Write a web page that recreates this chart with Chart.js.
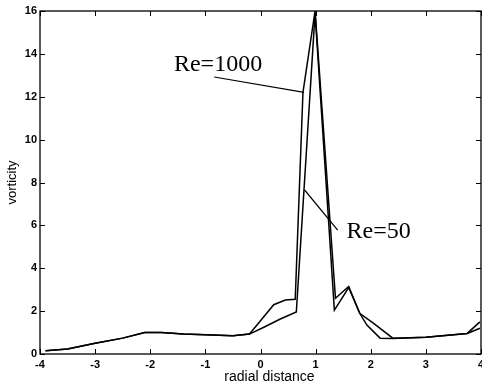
<!DOCTYPE html>
<html>
<head>
<meta charset="utf-8">
<script src="https://cdn.jsdelivr.net/npm/chart.js@4"></script>
<style>
  html, body { margin: 0; padding: 0; background: #fff; }
  #wrap { width: 482px; height: 387px; position: relative; }
</style>
</head>
<body>
<div id="wrap"><canvas id="chart" width="482" height="387"></canvas></div>
<script>
// ─── DATA ────────────────────────────────────────────────────────────────
const re1000X = [-3.9, -3.5, -3.0, -2.5, -2.1, -1.8, -1.4, -1.0, -0.5, -0.2, 0.0, 0.24, 0.45, 0.63, 0.77, 0.99, 1.36, 1.6, 1.8, 2.04, 2.4, 3.0, 3.75, 3.98];
const re1000Y = [0.15, 0.23, 0.5, 0.74, 1.0, 1.0, 0.93, 0.9, 0.85, 0.93, 1.55, 2.3, 2.52, 2.55, 12.2, 16, 2.6, 3.15, 1.9, 1.45, 0.74, 0.78, 0.96, 1.5];

const re50X = [-3.9, -3.5, -3.0, -2.5, -2.1, -1.8, -1.4, -1.0, -0.5, -0.2, 0.07, 0.35, 0.65, 0.99, 1.34, 1.6, 1.8, 1.93, 2.17, 2.4, 3.0, 3.75, 3.98];
const re50Y = [0.15, 0.23, 0.5, 0.74, 1.0, 1.0, 0.93, 0.9, 0.85, 0.93, 1.26, 1.62, 1.96, 15.9, 2.05, 3.1, 1.9, 1.35, 0.74, 0.72, 0.78, 0.96, 1.2];

const xTicks = [-4, -3, -2, -1, 0, 1, 2, 3, 4];
const yTicks = [0, 2, 4, 6, 8, 10, 12, 14, 16];

// labels with their leader lines, in data units: [text x, text baseline y, line from x,y, line to x,y]
const labelNames = ['Re=1000', 'Re=50'];
const labelAt = [[-1.57, 13.2], [1.56, 5.4]];
const leaderFrom = [[-0.84, 12.92], [0.8, 7.65]];
const leaderTo = [[0.79, 12.2], [1.4, 5.78]];

const toPoints = (xs, ys) => xs.map((x, i) => ({ x, y: ys[i] }));

// ─── FRAME, INWARD TICKS, LABELS ─────────────────────────────────────────
const framePlugin = {
  id: 'frame',
  afterDraw(chart) {
    const { ctx, chartArea: a, scales } = chart;
    const sx = scales.x, sy = scales.y;
    ctx.save();
    ctx.strokeStyle = '#000';
    ctx.lineWidth = 1.3;
    ctx.strokeRect(a.left, a.top, a.right - a.left, a.bottom - a.top);

    ctx.lineWidth = 1;
    ctx.beginPath();
    xTicks.forEach(v => {
      const px = Math.round(sx.getPixelForValue(v)) + 0.5;
      ctx.moveTo(px, a.bottom); ctx.lineTo(px, a.bottom - 5);
      ctx.moveTo(px, a.top); ctx.lineTo(px, a.top + 5);
    });
    yTicks.forEach(v => {
      const py = Math.round(sy.getPixelForValue(v)) + 0.5;
      ctx.moveTo(a.left, py); ctx.lineTo(a.left + 5, py);
      ctx.moveTo(a.right, py); ctx.lineTo(a.right - 5, py);
    });
    ctx.stroke();

    // annotations
    ctx.fillStyle = '#000';
    ctx.font = '24px "Liberation Serif", "Times New Roman", serif';
    ctx.textBaseline = 'alphabetic';
    ctx.textAlign = 'left';
    labelNames.forEach((t, i) => {
      ctx.fillText(t, sx.getPixelForValue(labelAt[i][0]), sy.getPixelForValue(labelAt[i][1]));
      ctx.beginPath();
      ctx.moveTo(sx.getPixelForValue(leaderFrom[i][0]), sy.getPixelForValue(leaderFrom[i][1]));
      ctx.lineTo(sx.getPixelForValue(leaderTo[i][0]), sy.getPixelForValue(leaderTo[i][1]));
      ctx.lineWidth = 1.2;
      ctx.stroke();
    });

    // axis titles
    ctx.font = '14px "Liberation Sans", Arial, sans-serif';
    ctx.textAlign = 'center';
    ctx.textBaseline = 'middle';
    ctx.fillText('radial distance', (a.left + a.right) / 2 + 9, 377);
    ctx.save();
    ctx.translate(12, (a.top + a.bottom) / 2);
    ctx.rotate(-Math.PI / 2);
    ctx.font = '13px "Liberation Sans", Arial, sans-serif';
    ctx.fillText('vorticity', 0, 0);
    ctx.restore();
    ctx.restore();
  }
};

const tickFont = { family: '"Liberation Sans", Arial, sans-serif', size: 11, weight: 'bold' };

new Chart(document.getElementById('chart'), {
  type: 'scatter',
  data: {
    datasets: [
      { label: 'Re=1000', data: toPoints(re1000X, re1000Y), showLine: true, borderColor: '#000', borderWidth: 1.5, pointRadius: 0, tension: 0 },
      { label: 'Re=50', data: toPoints(re50X, re50Y), showLine: true, borderColor: '#000', borderWidth: 1.5, pointRadius: 0, tension: 0 }
    ]
  },
  options: {
    responsive: false,
    animation: false,
    layout: { padding: { top: 11, right: 1, left: 0, bottom: 0 } },
    plugins: { legend: { display: false }, tooltip: { enabled: false } },
    scales: {
      x: {
        type: 'linear', min: -4, max: 4,
        grid: { display: false, drawTicks: false },
        border: { display: false },
        ticks: {
          stepSize: 1, padding: 4, color: '#000', font: tickFont, maxRotation: 0,
          callback: v => String(v)
        },
        afterFit: s => { s.height = 33; s.paddingLeft = 0; s.paddingRight = 0; }
      },
      y: {
        type: 'linear', min: 0, max: 16,
        grid: { display: false, drawTicks: false },
        border: { display: false },
        ticks: { stepSize: 2, padding: 3, color: '#000', font: tickFont },
        afterFit: s => { s.width = 40; s.paddingTop = 0; s.paddingBottom = 0; }
      }
    }
  },
  plugins: [framePlugin]
});
</script>
</body>
</html>
